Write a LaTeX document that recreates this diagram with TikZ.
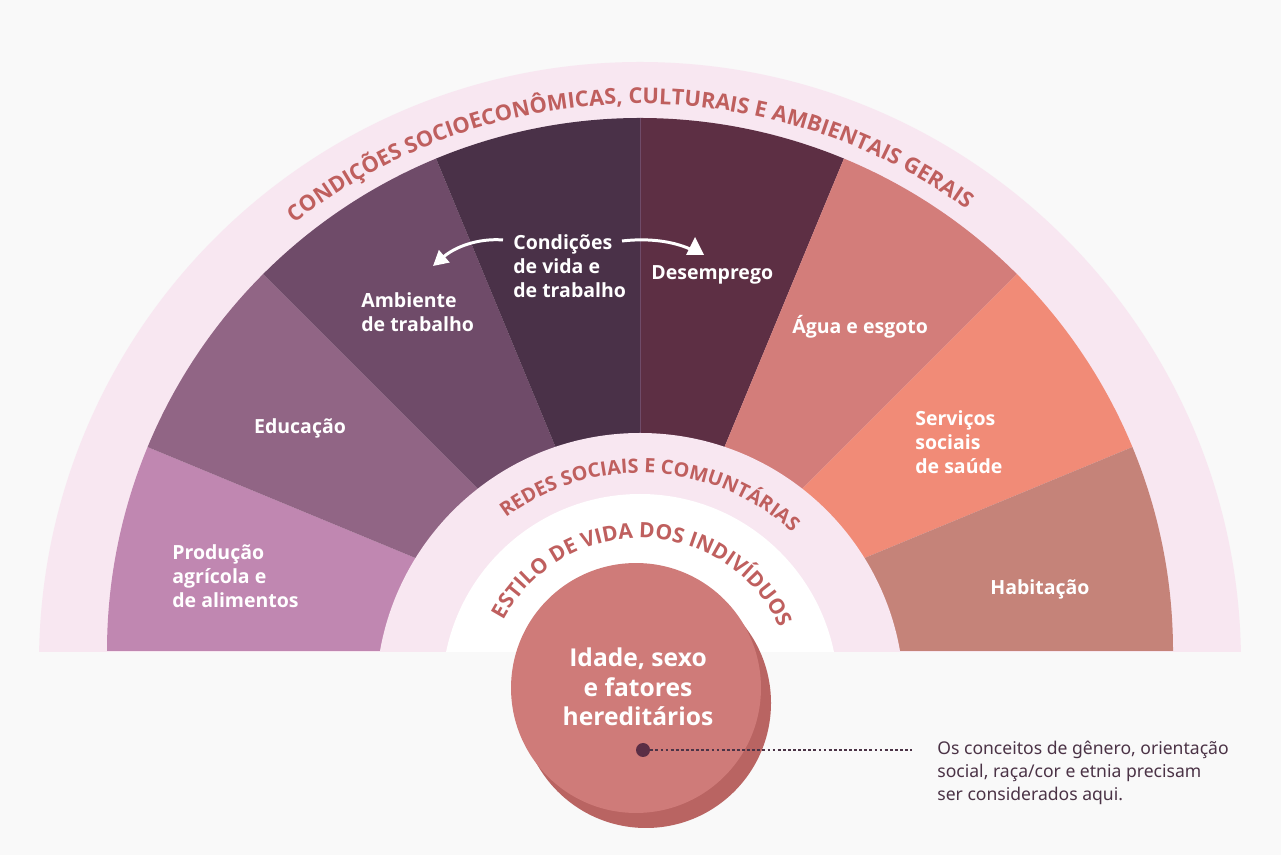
\documentclass[tikz,border=0pt]{standalone}
\usepackage{fontspec}
\setmainfont{Noto Sans}
\newfontfamily\osans{Open Sans}
\usetikzlibrary{decorations.text, arrows.meta}
\definecolor{bgc}{HTML}{F9F9F9}
\definecolor{bandc}{HTML}{F8E7F1}
\definecolor{secA}{HTML}{C087B1}
\definecolor{secB}{HTML}{916585}
\definecolor{secC}{HTML}{6F4B69}
\definecolor{secD}{HTML}{4A3148}
\definecolor{secE}{HTML}{5D2F44}
\definecolor{secF}{HTML}{D37D7A}
\definecolor{secG}{HTML}{F18B77}
\definecolor{secH}{HTML}{C58379}
\definecolor{circc}{HTML}{CF7B79}
\definecolor{circshade}{HTML}{B96462}
\definecolor{arcred}{HTML}{BF5F5E}
\definecolor{notec}{HTML}{4B3346}
\definecolor{dotc}{HTML}{5A2E45}
\newcommand\lblfont{\osans\bfseries\fontsize{11.1}{13.66}\selectfont}
\newcommand\bigfont{\osans\bfseries\fontsize{14}{16.8}\selectfont}
\newcommand\notefont{\fontsize{10}{13.1}\selectfont}
\newcommand\arcfontA{\osans\bfseries\fontsize{12.4}{14}\selectfont\color{arcred}}
\newcommand\arcfontB{\osans\bfseries\fontsize{11.25}{13}\selectfont\color{arcred}}
\newcommand\arcfontC{\osans\bfseries\fontsize{12}{14}\selectfont\color{arcred}}
\tikzset{
  lbl/.style={text=white, font=\lblfont, align=left, inner sep=0pt},
  arrowline/.style={draw=white, line width=1.7pt},
  dotline/.style={draw=notec, line width=0.6pt, dash pattern=on 1.6pt off 1.3pt},
  divider/.style={draw=secC, line width=0.4pt}
}
\begin{document}
\begin{tikzpicture}[x=0.02cm,y=0.02cm]
\useasboundingbox (0,0) rectangle (1281,855);
\fill[bgc] (0,0) rectangle (1281,855);
\begin{scope}
  \clip (0,203) rectangle (1281,855);
  \fill[bandc] (640,192) circle[radius=601];
  \fill[secA] (640,204) -- ++(180:533) arc[start angle=180, end angle=157.5, radius=533] -- cycle;
  \fill[secB] (640,204) -- ++(157.5:533) arc[start angle=157.5, end angle=135, radius=533] -- cycle;
  \fill[secC] (640,204) -- ++(135:533) arc[start angle=135, end angle=112.5, radius=533] -- cycle;
  \fill[secD] (640,204) -- ++(112.5:533) arc[start angle=112.5, end angle=90, radius=533] -- cycle;
  \fill[secE] (640,204) -- ++(90:533) arc[start angle=90, end angle=67.5, radius=533] -- cycle;
  \fill[secF] (640,204) -- ++(67.5:533) arc[start angle=67.5, end angle=45, radius=533] -- cycle;
  \fill[secG] (640,204) -- ++(45:533) arc[start angle=45, end angle=22.5, radius=533] -- cycle;
  \fill[secH] (640,204) -- ++(22.5:533) arc[start angle=22.5, end angle=0, radius=533] -- cycle;
  \draw[divider] (640,204) -- (640,737);
  \fill[bandc] (640,158) circle[radius=264];
  \fill[white] (640,163) circle[radius=198];
\end{scope}

% arc titles
\path[decorate, decoration={text along path, text align=center,
  text={|\arcfontA|CONDIÇÕES SOCIOECONÔMICAS, CULTURAIS E AMBIENTAIS GERAIS}}]
  (640,192) ++(171.2:559) arc[start angle=171.2, end angle=11.2, radius=559];
\path[decorate, decoration={text along path, text align=center,
  text={|\arcfontB|REDES SOCIAIS E COMUNTÁRIAS}}]
  (640,158) ++(167:224) arc[start angle=167, end angle=7, radius=224];
\path[decorate, decoration={text along path, text align=center,
  text={|\arcfontC|ESTILO DE VIDA DOS INDIVÍDUOS}}]
  (640,163) ++(178.4:154) arc[start angle=178.4, end angle=-1.6, radius=154];

% sector labels
\node[lbl, anchor=west] (prod) at (172,279) {Produção\\agrícola e\\de alimentos};
\node[lbl] (edu) at (300,427) {Educação};
\node[lbl, anchor=west] (amb) at (361,543) {Ambiente\\de trabalho};
\node[lbl, anchor=west] (cond) at (513,589) {Condições\\de vida e\\de trabalho};
\node[lbl, anchor=west] (desemp) at (651,580) {Desemprego};
\node[lbl, anchor=west] (agua) at (792,528) {Água e esgoto};
\node[lbl, anchor=west] (serv) at (915,413) {Serviços\\sociais\\de saúde};
\node[lbl, anchor=west] (hab) at (990,266) {Habitação};

% arrows from Condicoes
\coordinate (la0) at (503,615);
\coordinate (la1) at (433,589);
\coordinate (ra0) at (622,614);
\coordinate (ra1) at (690,606);
\draw[arrowline, -{Triangle[length=8.5pt,width=9pt]}] (la0) .. controls (478,617) and (455,608) .. (la1);
\draw[arrowline] (ra0) .. controls (648,617) and (672,614) .. (ra1);
\fill[white] (686,600) -- (704,600) -- (695,618) -- cycle;

% central circle
\fill[circshade] (646,152) circle[radius=125];
\node[circle, fill=circc, minimum size=5cm, inner sep=0pt] (idade) at (636,167) {};
\node[text=white, font=\bigfont, align=center, inner sep=0pt] (idadetxt) at (638,168) {Idade, sexo\\e fatores\\hereditários};

% note
\node[circle, fill=dotc, minimum size=0.28cm, inner sep=0pt] (dot) at (643,105) {};
\coordinate (dotend) at (912,105);
\draw[dotline] (dot) -- (dotend);
\node[anchor=west, align=left, text=notec, font=\notefont, inner sep=0pt] (note) at (937,82) {Os conceitos de gênero, orientação\\social, raça/cor e etnia precisam\\ser considerados aqui.};
\end{tikzpicture}
\end{document}
